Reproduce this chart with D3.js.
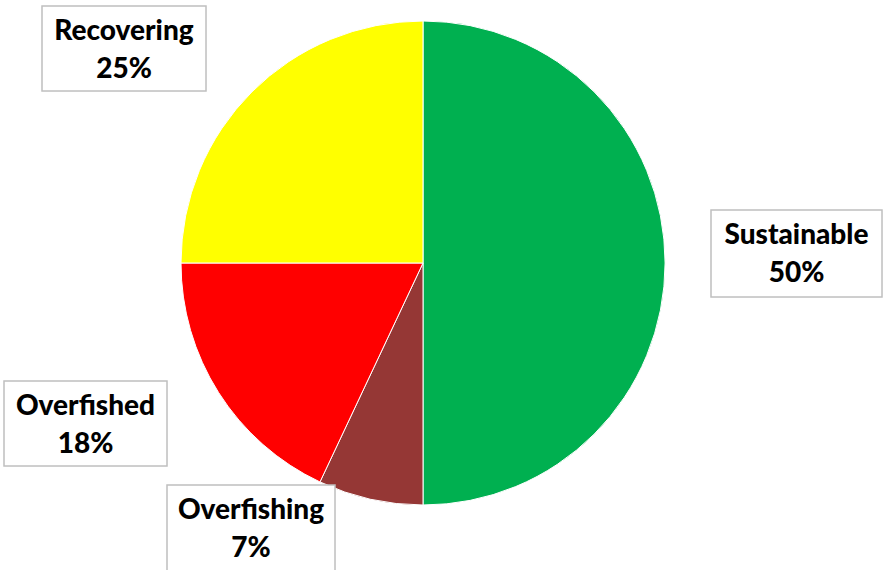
<!DOCTYPE html>
<html>
<head>
<meta charset="utf-8">
<script src="https://cdn.jsdelivr.net/npm/d3@7/dist/d3.min.js"></script>
<style>
  html, body { margin: 0; padding: 0; background: #fff; }
  svg { display: block; }
</style>
</head>
<body>
<svg id="chart" width="885" height="570"></svg>
<script>
// Stock status shares
const categories = ["Sustainable", "Overfishing", "Overfished", "Recovering"];
const shares = [50, 7, 18, 25];
const colors = ["#00B050", "#953735", "#FF0000", "#FFFF00"];

// Label box placement (top-left corner, size) for each category
const labelBoxes = [
  { x: 711, y: 210, w: 171, h: 87 },
  { x: 167, y: 485, w: 168, h: 95 },
  { x: 4,   y: 381, w: 163, h: 85 },
  { x: 42,  y: 6,   w: 164, h: 85 }
];

const svg = d3.select("#chart");
const cx = 423, cy = 263, radius = 242;

const data = categories.map((c, i) => ({ name: c, value: shares[i], color: colors[i], box: labelBoxes[i] }));

const pie = d3.pie().value(d => d.value).sort(null);
const arc = d3.arc().innerRadius(0).outerRadius(radius);

const g = svg.append("g").attr("transform", `translate(${cx},${cy})`);
g.selectAll("path")
  .data(pie(data))
  .join("path")
  .attr("d", arc)
  .attr("fill", d => d.data.color)
  .attr("stroke", "#ffffff")
  .attr("stroke-width", 1);

// Data labels in bordered boxes
const labels = svg.selectAll("g.label")
  .data(data)
  .join("g")
  .attr("class", "label");

labels.append("rect")
  .attr("x", d => d.box.x)
  .attr("y", d => d.box.y)
  .attr("width", d => d.box.w)
  .attr("height", d => d.box.h)
  .attr("fill", "#ffffff")
  .attr("stroke", "#bfbfbf")
  .attr("stroke-width", 1.5);

const fontSpec = { family: "Lato, 'Open Sans', sans-serif", size: 28, weight: 900 };

labels.append("text")
  .attr("x", d => d.box.x + d.box.w / 2)
  .attr("y", d => d.box.y + 34)
  .attr("text-anchor", "middle")
  .attr("font-family", fontSpec.family)
  .attr("font-weight", fontSpec.weight)
  .attr("font-size", fontSpec.size)
  .attr("fill", "#000")
  .text(d => d.name);

labels.append("text")
  .attr("x", d => d.box.x + d.box.w / 2)
  .attr("y", d => d.box.y + 72)
  .attr("text-anchor", "middle")
  .attr("font-family", fontSpec.family)
  .attr("font-weight", fontSpec.weight)
  .attr("font-size", fontSpec.size)
  .attr("fill", "#000")
  .text(d => d.value + "%");
</script>
</body>
</html>
